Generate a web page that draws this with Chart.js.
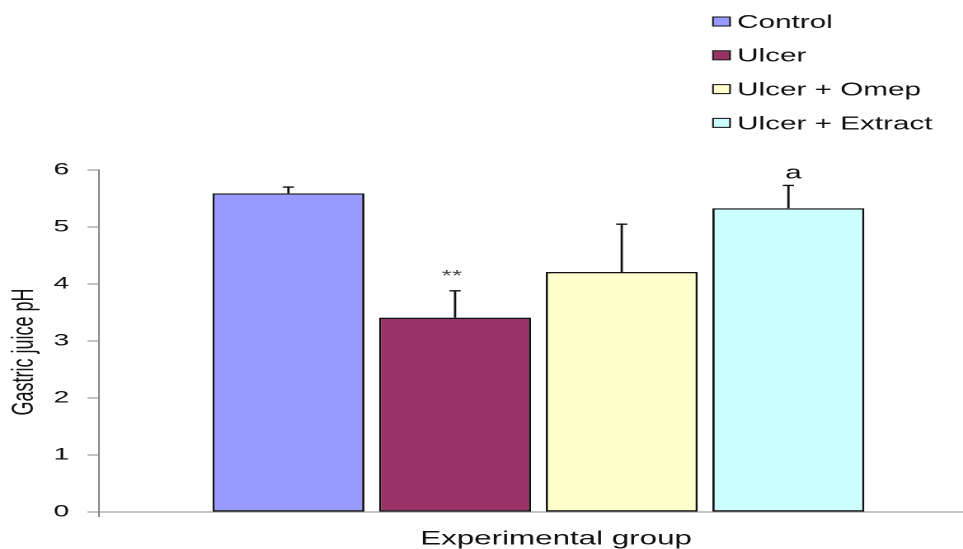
<!DOCTYPE html>
<html>
<head>
<meta charset="utf-8">
<script src="https://cdn.jsdelivr.net/npm/chart.js@4.4.1/dist/chart.umd.min.js"></script>
<style>
  html, body { margin: 0; padding: 0; background: #fff; overflow: hidden; }
  #wrap { width: 963px; height: 549px; overflow: hidden; position: relative; }
  /* the figure is laid out on a narrow canvas and widened horizontally */
  #stage { position: absolute; left: 0; top: 0; width: 593px; height: 549px;
           transform: scaleX(1.649); transform-origin: 0 0; }
</style>
</head>
<body>
<div id="wrap"><div id="stage"><canvas id="chart" width="593" height="549"></canvas></div></div>
<script>
// Gastric juice pH per experimental group (mean, upper SD bar)
const groups = ['Control', 'Ulcer', 'Ulcer + Omep', 'Ulcer + Extract'];
const meanPH = [5.59, 3.41, 4.21, 5.33];
const sdPH = [0.11, 0.47, 0.84, 0.40];
const marks = ['', '**', '', 'a'];
const categories = ['Experimental group'];
const yTicks = [0, 1, 2, 3, 4, 5, 6];
const yTitle = 'Gastric juice pH';

const fills = ['#9999FF', '#993366', '#FFFFCC', '#CCFFFF'];
const FONT = '"Liberation Sans", Arial, Helvetica, sans-serif';

// upward error bars with caps, plus significance marks above them
const errorBars = {
  id: 'errorBars',
  afterDatasetsDraw(chart) {
    const ctx = chart.ctx;
    const y = chart.scales.y;
    ctx.save();
    chart.data.datasets.forEach((ds, i) => {
      const bar = chart.getDatasetMeta(i).data[0];
      const top = y.getPixelForValue(meanPH[i] + sdPH[i]);
      ctx.strokeStyle = '#111';
      ctx.lineWidth = 1.4;
      ctx.beginPath();
      ctx.moveTo(bar.x, bar.y);
      ctx.lineTo(bar.x, top);
      ctx.moveTo(bar.x - 3.4, top);
      ctx.lineTo(bar.x + 3.4, top);
      ctx.stroke();
      if (marks[i]) {
        ctx.textAlign = 'center';
        ctx.textBaseline = 'alphabetic';
        if (marks[i] === '**') {
          ctx.fillStyle = '#444';
          ctx.font = '16px ' + FONT;
          ctx.fillText(marks[i], bar.x - 2, top - 10);
        } else {
          ctx.fillStyle = '#111';
          ctx.font = '18px ' + FONT;
          ctx.fillText(marks[i], bar.x + 3, top - 7);
        }
      }
    });
    ctx.restore();
  }
};

// value-axis caption, set a little below the middle of the axis
const axisCaption = {
  id: 'axisCaption',
  afterDraw(chart) {
    const ctx = chart.ctx;
    const area = chart.chartArea;
    ctx.save();
    ctx.translate(19.8, (area.top + area.bottom) / 2 + 11);
    ctx.rotate(-Math.PI / 2);
    ctx.font = '18px ' + FONT;
    ctx.fillStyle = '#111';
    ctx.textAlign = 'center';
    ctx.textBaseline = 'alphabetic';
    ctx.fillText(yTitle, 0, 0);
    ctx.restore();
  }
};

// stacked legend in the upper right corner
const stackedLegend = {
  id: 'stackedLegend',
  afterDraw(chart) {
    const ctx = chart.ctx;
    ctx.save();
    ctx.font = '18px ' + FONT;
    ctx.textAlign = 'left';
    ctx.textBaseline = 'alphabetic';
    chart.data.datasets.forEach((ds, i) => {
      const cy = 21.5 + i * 33.8;
      ctx.fillStyle = ds.backgroundColor;
      ctx.fillRect(432.4, cy - 4.5, 10.3, 9);
      ctx.strokeStyle = '#222';
      ctx.lineWidth = 1.1;
      ctx.strokeRect(432.4, cy - 4.5, 10.3, 9);
      ctx.fillStyle = '#111';
      ctx.fillText(ds.label, 447, cy + 6.4);
    });
    ctx.restore();
  }
};

new Chart(document.getElementById('chart'), {
  type: 'bar',
  data: {
    labels: categories,
    datasets: groups.map((g, i) => ({
      label: g,
      data: [meanPH[i]],
      backgroundColor: fills[i],
      borderColor: '#111',
      borderWidth: 1.4,
      borderSkipped: false,
      categoryPercentage: 0.7585,
      barPercentage: 0.912
    }))
  },
  options: {
    responsive: false,
    maintainAspectRatio: false,
    devicePixelRatio: 2,
    animation: false,
    layout: { padding: { top: 170, left: 0, right: 0, bottom: 0 } },
    plugins: { legend: { display: false }, tooltip: { enabled: false } },
    scales: {
      x: {
        offset: true,
        grid: { display: true, drawOnChartArea: false, offset: true, tickLength: 5, color: '#888' },
        border: { display: true, color: '#888', width: 1 },
        ticks: { color: '#111', font: { family: FONT, size: 19 }, padding: 11, labelOffset: 10.7 },
        afterFit(s) { s.height = 37; }
      },
      y: {
        min: 0,
        max: 6,
        afterBuildTicks(s) { s.ticks = yTicks.map(v => ({ value: v })); },
        grid: { display: true, drawOnChartArea: false, tickLength: 7, color: '#888' },
        border: { display: true, color: '#888', width: 1 },
        ticks: { color: '#111', font: { family: FONT, size: 17 }, padding: 11 },
        title: { display: false },
        afterFit(s) { s.width = 60; }
      }
    }
  },
  plugins: [errorBars, axisCaption, stackedLegend]
});
</script>
</body>
</html>
